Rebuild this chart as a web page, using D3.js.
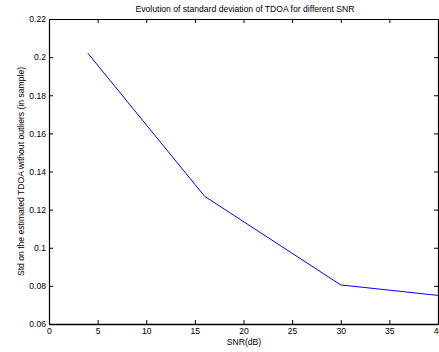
<!DOCTYPE html>
<html><head><meta charset="utf-8">
<script src="https://cdn.jsdelivr.net/npm/d3@7"></script>
<style>body{margin:0;background:#fff}svg{display:block}text{font-family:"Liberation Sans",Arial,sans-serif;fill:#000}</style>
</head><body><svg id="c" width="439" height="352"></svg>
<script>
const snr = [4, 16, 30, 40];
const stdTdoa = [0.202, 0.127, 0.0805, 0.075];
const xTicks = [0, 5, 10, 15, 20, 25, 30, 35, 40];
const yTicks = [0.06, 0.08, 0.1, 0.12, 0.14, 0.16, 0.18, 0.2, 0.22];
const titleText = "Evolution of standard deviation of TDOA for different SNR";
const xLabel = "SNR(dB)";
const yLabel = "Std on the estimated TDOA without outliers (in sample)";

const svg = d3.select("#c");
const L = 49, T = 19, R = 438, B = 324;
const FS = "8.6px";
const x = d3.scaleLinear().domain([0, 40]).range([L, R]);
const y = d3.scaleLinear().domain([0.06, 0.22]).range([B, T]);

const fmt = d => String(+d.toFixed(2));
const gb = svg.append("g").attr("transform", `translate(0,${B})`)
  .call(d3.axisBottom(x).tickValues(xTicks).tickSizeInner(-4).tickSizeOuter(0).tickPadding(5).tickFormat(d => d));
const gt = svg.append("g").attr("transform", `translate(0,${T})`)
  .call(d3.axisTop(x).tickValues(xTicks).tickSizeInner(-4).tickSizeOuter(0).tickFormat(""));
const gl = svg.append("g").attr("transform", `translate(${L},0)`)
  .call(d3.axisLeft(y).tickValues(yTicks).tickSizeInner(-4).tickSizeOuter(0).tickPadding(3).tickFormat(fmt));
const gr = svg.append("g").attr("transform", `translate(${R},0)`)
  .call(d3.axisRight(y).tickValues(yTicks).tickSizeInner(-4).tickSizeOuter(0).tickFormat(""));
[gb, gt, gl, gr].forEach(g => {
  g.selectAll("text").style("font-size", FS).attr("fill", "#000");
  g.selectAll("line").attr("stroke", "#000");
  g.select(".domain").attr("stroke", "#000").attr("stroke-width", 1.2);
});
gb.selectAll(".tick text").attr("dy", "0.6em");
gb.select(".domain").attr("stroke-width", 1.6);

svg.append("path")
  .datum(snr.map((s, i) => [s, stdTdoa[i]]))
  .attr("fill", "none").attr("stroke", "#0000ff").attr("stroke-width", 1)
  .attr("d", d3.line().x(d => x(d[0])).y(d => y(d[1])));

svg.append("text").attr("x", 245).attr("y", 12).attr("text-anchor", "middle")
  .style("font-size", FS).text(titleText);
svg.append("text").attr("x", 244).attr("y", 345).attr("text-anchor", "middle")
  .style("font-size", FS).text(xLabel);
svg.append("text").attr("transform", `translate(24,${(T + B) / 2}) rotate(-90)`)
  .attr("text-anchor", "middle").style("font-size", FS).text(yLabel);
</script></body></html>
